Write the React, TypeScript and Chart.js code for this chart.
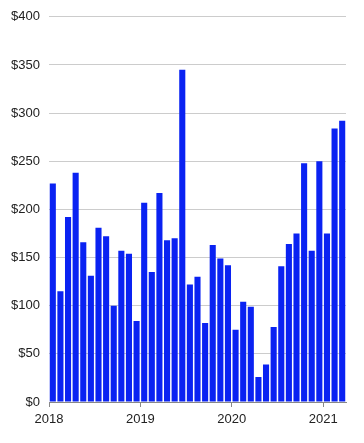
import React, { useEffect, useRef } from "react";
import { Chart, registerables } from "chart.js";

Chart.register(...registerables);

const yearLabels = ["2018", "2019", "2020", "2021"];
const monthlyValues = [
  227, 115, 192, 238, 166, 131, 181, 172, 100, 157, 154, 84,
  207, 135, 217, 168, 170, 345, 122, 130, 82, 163, 149, 142,
  75, 104, 99, 26, 39, 78, 141, 164, 175, 248, 157, 250,
  175, 284, 292,
];
const yTicks = [0, 50, 100, 150, 200, 250, 300, 350, 400];

export default function App() {
  const ref = useRef<HTMLCanvasElement>(null);
  useEffect(() => {
    document.body.style.margin = "0";
    const ctx = ref.current!;
    const data = monthlyValues.map((v, i) => ({ x: i + 0.5, y: v }));
    const chart = new Chart(ctx, {
      type: "bar",
      data: {
        datasets: [
          {
            data: data as any,
            backgroundColor: "#0a22f2",
            borderWidth: 0,
            barPercentage: 0.8,
            categoryPercentage: 1,
          },
        ],
      },
      options: {
        animation: false,
        responsive: false,
        maintainAspectRatio: false,
        layout: { padding: { top: 16, right: 18, left: 0, bottom: 0 } },
        plugins: { legend: { display: false }, tooltip: { enabled: false } },
        scales: {
          x: {
            type: "linear",
            offset: false,
            bounds: "data",
            min: 0,
            max: monthlyValues.length,
            afterBuildTicks: (s: any) => {
              s.ticks = yearLabels.map((_, i) => ({ value: i * 12 }));
            },
            afterFit: (s: any) => {
              s.height = 41;
            },
            ticks: {
              autoSkip: false,
              maxRotation: 0,
              color: "#222",
              font: { family: "'Liberation Sans', Arial", size: 13 },
              padding: 5,
              callback: (v: any) => yearLabels[Math.round(Number(v) / 12)] ?? "",
            },
            grid: {
              offset: false,
              drawOnChartArea: false,
              drawTicks: true,
              tickLength: 5,
              color: "#888",
            },
            border: { display: true, color: "#888" },
          },
          y: {
            min: 0,
            max: 400,
            afterBuildTicks: (s: any) => {
              s.ticks = yTicks.map((v) => ({ value: v }));
            },
            afterFit: (s: any) => {
              s.width = 49;
            },
            ticks: {
              color: "#222",
              font: { family: "'Liberation Sans', Arial", size: 13 },
              padding: 9,
              callback: (v: any) => "$" + v,
            },
            grid: { color: "#cccccc", drawTicks: false },
            border: { display: false },
          },
        },
      },
    } as any);
    return () => chart.destroy();
  }, []);
  return <canvas ref={ref} width={364} height={443} style={{ display: "block" }} />;
}
